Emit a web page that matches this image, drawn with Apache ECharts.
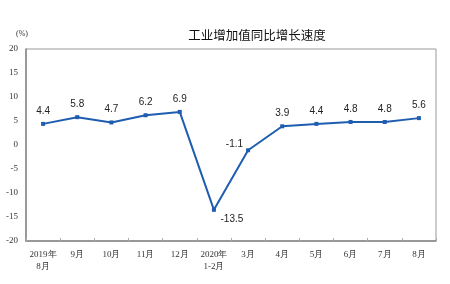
<!DOCTYPE html>
<html><head><meta charset="utf-8">
<script src="https://cdn.jsdelivr.net/npm/echarts@6/dist/echarts.min.js"></script>
<style>html,body{margin:0;padding:0;background:#fff}#c{width:450px;height:284px}</style>
</head><body><div id="c"></div>
<script>
const categories = ['2019年\n8月','9月','10月','11月','12月','2020年\n1-2月','3月','4月','5月','6月','7月','8月'];
const values = [4.4, 5.8, 4.7, 6.2, 6.9, -13.5, -1.1, 3.9, 4.4, 4.8, 4.8, 5.6];
const yTicks = [-20, -15, -10, -5, 0, 5, 10, 15, 20];
const title = '工业增加值同比增长速度';
const unit = '(%)';

const chart = echarts.init(document.getElementById('c'));
const labelCfg = values.map((v, i) => {
  if (i === 5) return {position: 'bottom', offset: [18, -4]};
  if (i === 6) return {position: 'left', offset: [3, -6]};
  return {position: 'top'};
});
chart.setOption({
  animation: false,
  title: {text: title, left: 252, top: 24, textAlign: 'center',
    textStyle: {fontSize: 12.5, fontWeight: 'normal', color: '#111', fontFamily: 'Noto Sans CJK SC'}},
  graphic: [{type: 'text', left: 16, top: 30, style: {text: unit, fontSize: 8, fill: '#333', fontFamily: 'Liberation Serif'}}],
  grid: {left: 26, right: 14, top: 49, bottom: 43, show: true, borderColor: '#999', borderWidth: 1},
  xAxis: {type: 'category', data: categories, boundaryGap: true,
    axisLine: {onZero: false, lineStyle: {color: '#888', width: 1.5}},
    axisTick: {show: true, inside: true, length: 3, lineStyle: {color: '#aaa'}},
    axisLabel: {fontSize: 9, color: '#333', fontFamily: 'Liberation Serif', margin: 8, lineHeight: 12, interval: 0}},
  yAxis: {type: 'value', min: -20, max: 20, interval: 5,
    axisLine: {show: true, lineStyle: {color: '#888', width: 1.5}},
    axisTick: {show: false}, splitLine: {show: false},
    axisLabel: {fontSize: 9, color: '#333', fontFamily: 'Liberation Serif', margin: 8,
      formatter: v => yTicks.includes(v) ? String(v) : ''}},
  series: [{type: 'line', data: values.map((v, i) => ({value: v, label: labelCfg[i]})),
    symbol: 'rect', symbolSize: 4,
    lineStyle: {color: '#1f5db0', width: 2}, itemStyle: {color: '#1f5db0'},
    label: {show: true, fontSize: 10, color: '#222', fontFamily: 'Liberation Sans', distance: 6}}]
});
</script></body></html>
